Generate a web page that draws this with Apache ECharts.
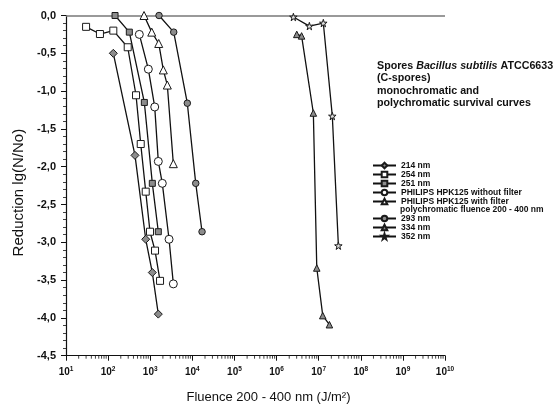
<!DOCTYPE html>
<html><head><meta charset="utf-8">
<script src="https://cdn.jsdelivr.net/npm/echarts@6/dist/echarts.min.js"></script>
<style>html,body{margin:0;padding:0;background:#fff}#c{width:558px;height:414px}</style>
</head><body><div id="c"></div>
<script>
// ---- data (fluence J/m², reduction lg(N/No)) ----
const s214 = [[133,-0.50],[435,-1.85],[782,-2.96],[1122,-3.40],[1556,-3.95]];
const s254 = [[30,-0.15],[64,-0.245],[133,-0.20],[292,-0.42],[460,-1.055],[595,-1.70],[782,-2.33],[988,-2.86],[1300,-3.11],[1710,-3.51]];
const s251 = [[146,0],[319,-0.22],[725,-1.15],[1122,-2.22],[1556,-2.86]];
const sNoFilter = [[551,-0.25],[902,-0.71],[1279,-1.21],[1556,-1.93],[1936,-2.22],[2800,-2.96],[3540,-3.55]];
const sFilter = [[713,0],[1087,-0.22],[1592,-0.37],[2047,-0.72],[2546,-0.92],[3540,-1.96]];
const s293 = [[1618,0],[3614,-0.22],[7600,-1.16],[12050,-2.22],[17000,-2.86]];
const s334 = [[3.02e6,-0.25],[3.93e6,-0.27],[7.48e6,-1.29],[9.02e6,-3.34],[1.25e7,-3.97],[1.80e7,-4.09]];
const s352 = [[2.51e6,-0.02],[6.01e6,-0.14],[1.29e7,-0.10],[2.11e7,-1.33],[2.94e7,-3.045]];

const seriesNames = ['214 nm','254 nm','251 nm','PHILIPS HPK125 without filter','PHILIPS HPK125 with filter','293 nm','334 nm','352 nm'];
const yTickLabels = ['0,0','-0,5','-1,0','-1,5','-2,0','-2,5','-3,0','-3,5','-4,0','-4,5'];
const xTickExponents = ['1','2','3','4','5','6','7','8','9','10'];
const xDecades = [10,100,1e3,1e4,1e5,1e6,1e7,1e8,1e9];
const xMinorMultipliers = [2,3,4,5,6,7,8,9];
const titleLines = ['Spores ', 'Bacillus subtilis', ' ATCC6633', '(C-spores)', 'monochromatic and', 'polychromatic survival curves'];
const legendExtra = 'polychromatic fluence 200 - 400 nm';

// minor tick positions of the log axis (axis decoration)
const xMinorTicks = [];
xDecades.forEach(d => xMinorMultipliers.forEach(m => xMinorTicks.push([d*m, -4.5])));

const FONT = 'Liberation Sans, Arial, Helvetica, sans-serif';
const STAR = 'path://M50,0 L61,35 L98,35 L68,57 L79,91 L50,70 L21,91 L32,57 L2,35 L39,35 Z';
const LINE = {color:'#111', width:1.3};

function mk(name, data, symbol, size, fill, extra) {
  return Object.assign({
    name, type:'line', data, symbol, symbolSize:size,
    lineStyle: LINE,
    itemStyle: {color: fill, borderColor:'#1a1a1a', borderWidth:1},
    emphasis: {disabled:true},
    z: 3
  }, extra || {});
}

const legendText = {fontFamily:FONT, fontSize:8.5, fontWeight:'bold', color:'#111', lineHeight:9};

const chart = echarts.init(document.getElementById('c'), null, {renderer:'canvas'});
chart.setOption({
  animation:false,
  backgroundColor:'#fff',
  title: {
    text: '{n|' + titleLines[0] + '}{i|' + titleLines[1] + '}{n|' + titleLines[2] + '}\n{n|' + titleLines[3] + '}\n{n|' + titleLines[4] + '}\n{n|' + titleLines[5] + '}',
    left: 377, top: 60, padding: 0,
    textStyle: {
      rich: {
        n: {fontFamily:FONT, fontSize:10.7, fontWeight:'bold', color:'#111', lineHeight:12.3},
        i: {fontFamily:FONT, fontSize:10.7, fontWeight:'bold', fontStyle:'italic', color:'#111', lineHeight:12.3}
      }
    }
  },
  legend: [
    {
      data: seriesNames.slice(0,5), orient:'vertical', left:372, top:161, padding:0,
      itemWidth:23, itemHeight:7, itemGap:0, selectedMode:false, textStyle:legendText
    },
    {
      data: seriesNames.slice(5), orient:'vertical', left:372, top:214, padding:0,
      itemWidth:23, itemHeight:7, itemGap:0, selectedMode:false, textStyle:legendText
    }
  ],
  graphic: [{
    type:'text', left:400, top:205.5,
    style:{text: legendExtra, fontFamily:FONT, fontSize:8.5, fontWeight:'bold', fill:'#111'}
  }],
  grid: {left:66, right:113, top:15.5, bottom:58.3, containLabel:false},
  xAxis: {
    type:'log', logBase:10, min:10, max:1e10,
    name:'Fluence 200 - 400 nm (J/m²)', nameLocation:'middle', nameGap:35,
    nameTextStyle:{fontFamily:FONT, fontSize:13, color:'#111', padding:[0,0,0,26]},
    axisLine:{show:true, onZero:false, lineStyle:{color:'#111', width:1.2}},
    axisTick:{show:true, length:5, lineStyle:{color:'#111', width:1}},
    minorTick:{show:false},
    splitLine:{show:false},
    axisLabel:{
      margin:10, color:'#111',
      formatter: function(v){ const e = Math.round(Math.log10(v)); return '{b|10}{s|' + xTickExponents[e-1] + '}'; },
      rich:{
        b:{fontFamily:FONT, fontSize:10, fontWeight:'bold', color:'#111'},
        s:{fontFamily:FONT, fontSize:6.5, fontWeight:'bold', color:'#111', padding:[0,0,7,0]}
      }
    }
  },
  yAxis: {
    type:'value', min:-4.5, max:0, interval:0.5,
    name:'Reduction lg(N/No)', nameLocation:'middle', nameGap:37,
    nameTextStyle:{fontFamily:FONT, fontSize:15, color:'#111', padding:[0,14,0,0]},
    axisLine:{show:true, onZero:false, lineStyle:{color:'#111', width:1.2}},
    axisTick:{show:true, length:5, lineStyle:{color:'#111', width:1}},
    minorTick:{show:true, splitNumber:5, length:3, lineStyle:{color:'#111', width:0.8}},
    splitLine:{show:false},
    axisLabel:{
      margin:10, fontFamily:FONT, fontSize:11, fontWeight:'bold', color:'#111',
      formatter: function(v){ return yTickLabels[Math.round(-v/0.5)]; }
    }
  },
  series: [
    mk(seriesNames[0], s214, 'diamond', 8, '#8c8c8c', {
      markLine:{silent:true, symbol:['none','none'], label:{show:false},
        lineStyle:{color:'#777', width:1.5, type:'solid'}, data:[{yAxis:0}], z:1}
    }),
    mk(seriesNames[1], s254, 'rect', 7, '#fff'),
    mk(seriesNames[2], s251, 'rect', 6, '#8c8c8c'),
    mk(seriesNames[3], sNoFilter, 'circle', 8, '#fff'),
    mk(seriesNames[4], sFilter, 'triangle', 8, '#fff'),
    mk(seriesNames[5], s293, 'circle', 6.5, '#8c8c8c'),
    mk(seriesNames[6], s334, 'triangle', 6.5, '#8c8c8c'),
    mk(seriesNames[7], s352, STAR, 7.5, '#ddd'),
    {
      name:'xMinor', type:'custom', data:xMinorTicks, silent:true, z:2, clip:false,
      renderItem: function(params, api){
        const p = api.coord([api.value(0), api.value(1)]);
        return {type:'line', shape:{x1:p[0], y1:p[1], x2:p[0], y2:p[1]+3}, style:{stroke:'#111', lineWidth:0.8}};
      }
    }
  ]
});
</script>
</body></html>
